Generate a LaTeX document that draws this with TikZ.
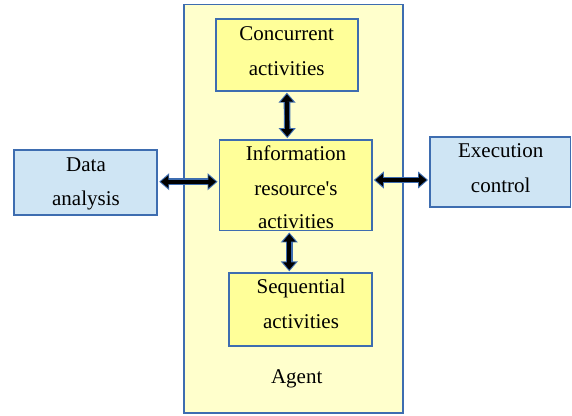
\documentclass[tikz,border=0pt]{standalone}
\usepackage{fontspec}
\setmainfont{Liberation Serif}[Ligatures=TeXOff]
\usetikzlibrary{arrows.meta}
\definecolor{bordblue}{HTML}{3E6DB0}
\definecolor{agentfill}{HTML}{FFFFCC}
\definecolor{boxfill}{HTML}{FFFF99}
\definecolor{extfill}{HTML}{CFE5F4}
\tikzset{
  agentbox/.style={draw=bordblue, line width=1.8pt, fill=agentfill},
  actbox/.style={draw=bordblue, line width=1.8pt, fill=boxfill},
  extbox/.style={draw=bordblue, line width=1.8pt, fill=extfill},
  txt/.style={anchor=base, inner sep=0pt, font=\fontsize{21}{25}\selectfont},
  arrout/.style={draw=bordblue, line width=6.6pt, {Triangle[length=10pt,width=16.5pt]}-{Triangle[length=10pt,width=16.5pt]}, shorten <=1pt, shorten >=1pt},
  arrin/.style={draw=black, line width=4.2pt, {Triangle[length=7.5pt,width=12pt]}-{Triangle[length=7.5pt,width=12pt]}, shorten <=2.6pt, shorten >=2.6pt},
}
\begin{document}
\begin{tikzpicture}[x=1pt,y=-1pt]
\useasboundingbox (0,0) rectangle (572,415);
% boxes
\path[agentbox] (184,4.5) rectangle (403,413);
\node[actbox, minimum width=142pt, minimum height=71.5pt, inner sep=0pt] (conc) at (286.9,55) {};
\node[actbox, minimum width=152.5pt, minimum height=90.5pt, inner sep=0pt] (info) at (295.7,185.3) {};
\node[actbox, minimum width=143pt, minimum height=72.5pt, inner sep=0pt] (seq) at (300.8,309.5) {};
\node[extbox, minimum width=143pt, minimum height=64.5pt, inner sep=0pt] (data) at (85.8,182.4) {};
\node[extbox, minimum width=140.5pt, minimum height=70pt, inner sep=0pt] (exec) at (500.2,172) {};
% texts
\node[txt] (t1) at (286.7,40) {Concurrent};
\node[txt] (t2) at (286.7,75) {activities};
\node[txt] (t3) at (296,160) {Information};
\node[txt] (t4) at (296,195) {resource's};
\node[txt] (t5) at (296,228.5) {activities};
\node[txt] (t6) at (301,293.3) {Sequential};
\node[txt] (t7) at (301,328.3) {activities};
\node[txt] (t8) at (296.7,383.3) {Agent};
\node[txt] (t9) at (86,171.5) {Data};
\node[txt] (t10) at (86,205) {analysis};
\node[txt] (t11) at (500.7,157) {Execution};
\node[txt] (t12) at (500.7,192) {control};
% arrows
\foreach \s in {arrout,arrin}{
  \draw[\s] (conc.south) -- ([xshift=0.4pt]conc.south |- info.north);
  \draw[\s] ([xshift=-6.4pt]info.south) -- ([xshift=-6.4pt]info.south |- seq.north);
  \draw[\s] ([yshift=0.7pt]data.east) -- ([yshift=0.7pt]data.east -| info.west);
  \draw[\s] ([yshift=5.3pt]info.east) -- ([yshift=5.3pt]info.east -| exec.west);
}
\end{tikzpicture}
\end{document}
